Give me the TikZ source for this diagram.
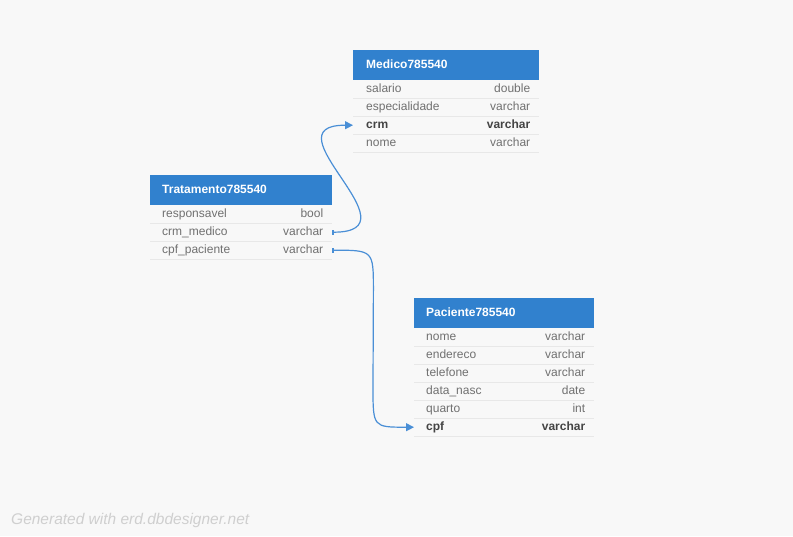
\documentclass[tikz,border=0pt]{standalone}
\usepackage{fontspec}
\setmainfont{Liberation Sans}
\usetikzlibrary{arrows.meta,calc}
\definecolor{bg}{HTML}{F8F8F8}
\definecolor{hdr}{HTML}{3181CE}
\definecolor{sepc}{HTML}{E8E8E8}
\definecolor{txt}{HTML}{707070}
\definecolor{txtb}{HTML}{444444}
\definecolor{link}{HTML}{4A8FD6}
\definecolor{foot}{HTML}{CFCFCF}
\begin{document}
\begin{tikzpicture}[x=1pt,y=-1pt,
  hdrbox/.style={fill=hdr,minimum height=30pt,inner sep=0pt,anchor=north west},
  hdrtext/.style={text=white,font=\fontsize{12}{14}\selectfont\bfseries,anchor=west,inner sep=0pt,text height=8.6pt,text depth=2.4pt},
  rowbox/.style={minimum height=18pt,inner sep=0pt,anchor=north west},
  celltext/.style={font=\fontsize{12}{14}\selectfont,inner sep=0pt,text height=8.6pt,text depth=2.4pt},
  fname/.style={celltext,text=txt,anchor=west},
  ftype/.style={celltext,text=txt,anchor=east},
  keyname/.style={celltext,text=txtb,font=\fontsize{12}{14}\selectfont\bfseries,anchor=west},
  keytype/.style={celltext,text=txtb,font=\fontsize{12}{14}\selectfont\bfseries,anchor=east},
  sepline/.style={draw=sepc,line width=0.8pt},
  rel/.style={draw=link,line width=1.2pt,{Bar[width=5pt,line width=1.4pt]}-{Triangle[length=8pt,width=8pt]}}
]
\path[fill=bg] (0,0) rectangle (793,536);

% ---------- Medico ----------
\node[hdrbox,minimum width=186pt] (mh) at (353,50) {};
\node[hdrtext] at ([xshift=13pt]mh.west) {Medico785540};
\node[rowbox,minimum width=186pt] (m1) at (353,80) {};
\node[rowbox,minimum width=186pt] (m2) at (353,98) {};
\node[rowbox,minimum width=186pt] (m3) at (353,116) {};
\node[rowbox,minimum width=186pt] (m4) at (353,134) {};
\node[fname] at ([xshift=13pt]m1.west) {salario};
\node[ftype] at ([xshift=-9pt]m1.east) {double};
\node[fname] at ([xshift=13pt]m2.west) {especialidade};
\node[ftype] at ([xshift=-9pt]m2.east) {varchar};
\node[keyname] at ([xshift=13pt]m3.west) {crm};
\node[keytype] at ([xshift=-9pt]m3.east) {varchar};
\node[fname] at ([xshift=13pt]m4.west) {nome};
\node[ftype] at ([xshift=-9pt]m4.east) {varchar};
\foreach \r in {m1,m2,m3,m4} \draw[sepline] (\r.south west) -- (\r.south east);

% ---------- Tratamento ----------
\node[hdrbox,minimum width=182pt] (th) at (150,175) {};
\node[hdrtext] at ([xshift=12pt]th.west) {Tratamento785540};
\node[rowbox,minimum width=182pt] (t1) at (150,205) {};
\node[rowbox,minimum width=182pt] (t2) at (150,223) {};
\node[rowbox,minimum width=182pt] (t3) at (150,241) {};
\node[fname] at ([xshift=12pt]t1.west) {responsavel};
\node[ftype] at ([xshift=-9pt]t1.east) {bool};
\node[fname] at ([xshift=12pt]t2.west) {crm\_medico};
\node[ftype] at ([xshift=-9pt]t2.east) {varchar};
\node[fname] at ([xshift=12pt]t3.west) {cpf\_paciente};
\node[ftype] at ([xshift=-9pt]t3.east) {varchar};
\foreach \r in {t1,t2,t3} \draw[sepline] (\r.south west) -- (\r.south east);

% ---------- Paciente ----------
\node[hdrbox,minimum width=180pt] (ph) at (414,298) {};
\node[hdrtext] at ([xshift=12pt]ph.west) {Paciente785540};
\node[rowbox,minimum width=180pt] (p1) at (414,328) {};
\node[rowbox,minimum width=180pt] (p2) at (414,346) {};
\node[rowbox,minimum width=180pt] (p3) at (414,364) {};
\node[rowbox,minimum width=180pt] (p4) at (414,382) {};
\node[rowbox,minimum width=180pt] (p5) at (414,400) {};
\node[rowbox,minimum width=180pt] (p6) at (414,418) {};
\node[fname] at ([xshift=12pt]p1.west) {nome};
\node[ftype] at ([xshift=-9pt]p1.east) {varchar};
\node[fname] at ([xshift=12pt]p2.west) {endereco};
\node[ftype] at ([xshift=-9pt]p2.east) {varchar};
\node[fname] at ([xshift=12pt]p3.west) {telefone};
\node[ftype] at ([xshift=-9pt]p3.east) {varchar};
\node[fname] at ([xshift=12pt]p4.west) {data\_nasc};
\node[ftype] at ([xshift=-9pt]p4.east) {date};
\node[fname] at ([xshift=12pt]p5.west) {quarto};
\node[ftype] at ([xshift=-9pt]p5.east) {int};
\node[keyname] at ([xshift=12pt]p6.west) {cpf};
\node[keytype] at ([xshift=-9pt]p6.east) {varchar};
\foreach \r in {p1,p2,p3,p4,p5,p6} \draw[sepline] (\r.south west) -- (\r.south east);

% ---------- relations ----------
\draw[rel] (t2.east) .. controls ($(t2.east)+(88,0)$) and ($(m3.west)+(-88,0)$) .. (m3.west);
\draw[rel] (t3.east) .. controls ($(t3.east)+(41,0)$) .. ($(t3.east)+(41,40)$)
  -- ($(p6.west)+(-41,-40)$) .. controls ($(p6.west)+(-41,0)$) .. (p6.west);

% ---------- footer ----------
\node[text=foot,font=\fontsize{15.5}{18}\selectfont\itshape,anchor=west,inner sep=0pt] (ft) at (11,520) {Generated with erd.dbdesigner.net};
\end{tikzpicture}
\end{document}
